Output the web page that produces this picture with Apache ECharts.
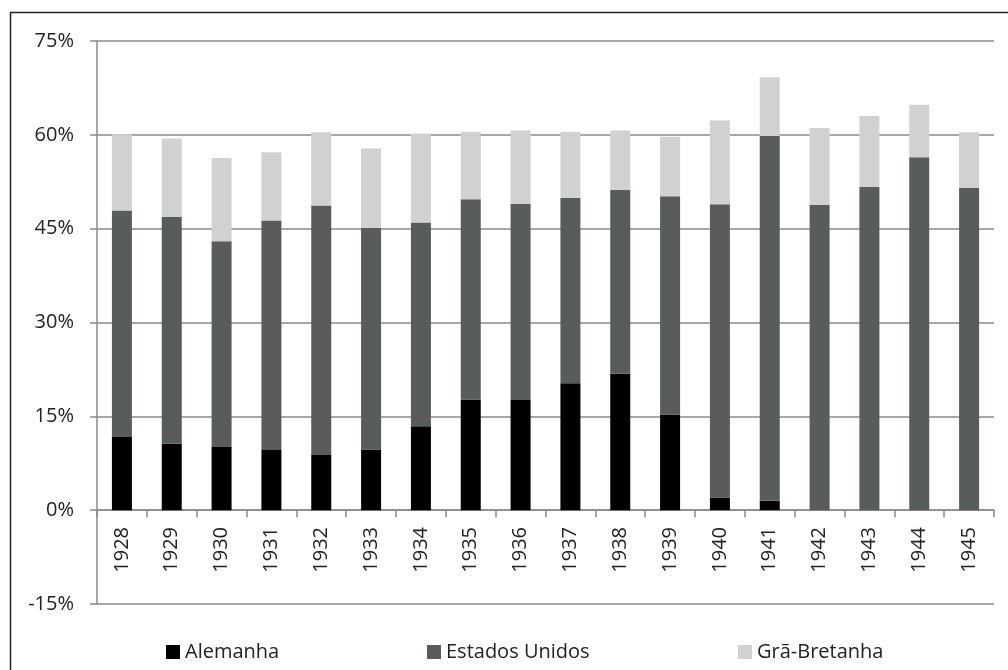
<!DOCTYPE html>
<html><head><meta charset="utf-8">
<script src="https://cdn.jsdelivr.net/npm/echarts@6/dist/echarts.min.js"></script>
<style>html,body{margin:0;padding:0;background:#fff}#c{width:1008px;height:670px}</style>
</head><body><div id="c"></div>
<script>
const years = ['1928','1929','1930','1931','1932','1933','1934','1935','1936','1937','1938','1939','1940','1941','1942','1943','1944','1945'];
const alemanha = [11.7,10.6,10.1,9.6,8.8,9.7,13.4,17.7,17.6,20.3,21.8,15.3,2.0,1.5,0,0,0,0];
const estadosUnidos = [36.2,36.3,32.9,36.7,39.9,35.4,32.6,32.0,31.4,29.6,29.4,34.9,46.9,58.3,48.8,51.7,56.4,51.5];
const graBretanha = [12.2,12.5,13.3,10.9,11.7,12.7,14.2,10.8,11.7,10.6,9.5,9.5,13.4,9.4,12.3,11.3,8.4,8.9];
const seriesNames = ['Alemanha','Estados Unidos','Grã-Bretanha'];
const colors = ['#000000','#595c5c','#d0d1d1'];

const chart = echarts.init(document.getElementById('c'), null, {renderer:'canvas'});
const font = '"Open Sans", sans-serif';
const legendBase = {
  bottom: 3, itemWidth: 14, itemHeight: 14, icon: 'rect', itemGap: 6,
  textStyle: {fontFamily: font, fontSize: 20, color: '#222'}
};
chart.setOption({
  animation: false,
  graphic: [{type:'rect', shape:{x:10.5,y:12.5,width:1020,height:700}, style:{fill:'none', stroke:'#222', lineWidth:1.5}, silent:true}],
  grid: {left: 97, right: 14, top: 41, bottom: 66},
  legend: [
    Object.assign({}, legendBase, {left: 161, data: [seriesNames[0]]}),
    Object.assign({}, legendBase, {left: 422, data: [seriesNames[1]]}),
    Object.assign({}, legendBase, {left: 733, data: [seriesNames[2]]})
  ],
  xAxis: {
    type: 'category', data: years,
    axisLine: {onZero: true, lineStyle: {color: '#8a8a8a', width: 1.5}},
    axisTick: {show: true, length: 7, alignWithLabel: false, lineStyle: {color: '#8a8a8a', width: 1.5}},
    axisLabel: {rotate: 90, margin: -77, fontFamily: font, fontSize: 20, color: '#222'}
  },
  yAxis: {
    type: 'value', min: -15, max: 75, interval: 15,
    axisLine: {show: true, lineStyle: {color: '#8a8a8a', width: 1.5}},
    axisTick: {show: true, length: 7, lineStyle: {color: '#8a8a8a', width: 1.5}},
    axisLabel: {formatter: '{value}%', margin: 23, fontFamily: font, fontSize: 20, color: '#222'},
    splitLine: {lineStyle: {color: '#8a8a8a', width: 1.5}}
  },
  series: [alemanha, estadosUnidos, graBretanha].map((d, i) => ({
    name: seriesNames[i], type: 'bar', stack: 'total', data: d, barWidth: 20,
    itemStyle: {color: colors[i]}
  }))
});
</script></body></html>
